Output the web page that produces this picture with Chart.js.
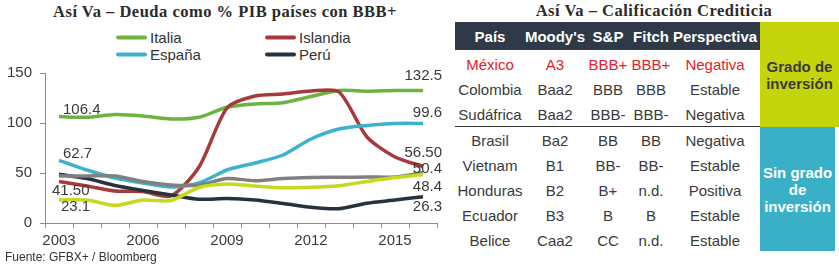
<!DOCTYPE html>
<html>
<head>
<meta charset="utf-8">
<script src="https://cdn.jsdelivr.net/npm/chart.js@4.4.1/dist/chart.umd.min.js"></script>
<style>
  body { margin: 0; width: 839px; height: 269px; position: relative; overflow: hidden; background: #fff;
         font-family: "Liberation Sans", Arial, sans-serif; color: #333; }
  .ttl { position: absolute; font: bold 16.5px "Liberation Serif", serif; letter-spacing: 0.5px; color: #2b2b2b; white-space: nowrap;
         transform: translate(-50%, -50%); }
  .leg { position: absolute; font-size: 15px; color: #333; white-space: nowrap; transform: translateY(-50%); }
  .leg i { display: inline-block; width: 31px; height: 4px; border-radius: 2px; vertical-align: middle; margin-right: 3px; position: relative; top: -1px; }
  #src { position: absolute; left: 5px; top: 250px; font-size: 12px; color: #333; }
  canvas { position: absolute; left: 0; top: 0; }
  .cell { position: absolute; font-size: 15px; white-space: nowrap; transform: translate(-50%, -50%); }
  .box { position: absolute; display: flex; align-items: center; justify-content: center; text-align: center;
         font-weight: bold; font-size: 15px; line-height: 17px; }
</style>
</head>
<body>
<div class="ttl" style="left:225px; top:12px">Así Va – Deuda como % PIB países con BBB+</div>
<div class="ttl" style="left:654px; top:11px">Así Va – Calificación Crediticia</div>
<div id="legend"></div>
<canvas id="chart" width="450" height="256"></canvas>
<div id="src">Fuente: GFBX+ / Bloomberg</div>
<div id="table"></div>

<script>
// --- chart data ---
var years = ["2003","2004","2005","2006","2007","2008","2009","2010","2011","2012","2013","2014","2015","2016"];
var italia   = [106.4, 105.7, 108.5, 107, 104, 105.8, 115.7, 119, 120.3, 126.5, 132.5, 131.8, 132.6, 132.5];
var islandia = [41.5, 37, 32, 31.5, 27, 56, 115, 127, 129, 132, 131, 86, 66, 56.5];
var espana   = [62.7, 53, 45, 40, 36, 40, 53, 60, 68, 84, 94, 97.5, 99.5, 99.6];
var peru     = [48.7, 44.5, 37.5, 32.5, 28, 23.7, 24.5, 23, 19.5, 15.7, 14.3, 19.8, 23, 26.3];
var gris     = [47, 47, 47, 41.5, 38, 38, 44.5, 42.3, 44.5, 45.5, 45.7, 46, 46, 50.4];
var amarillo = [23.1, 23, 17.5, 23, 22.5, 35.5, 39, 37, 35.3, 35.7, 37.3, 41.5, 45.5, 48.4];
var yTicks = [0, 50, 100, 150];

// --- table data ---
var headers = ["País", "Moody's", "S&P", "Fitch", "Perspectiva"];
var rows = [
  ["México", "A3", "BBB+", "BBB+", "Negativa"],
  ["Colombia", "Baa2", "BBB", "BBB", "Estable"],
  ["Sudáfrica", "Baa2", "BBB-", "BBB-", "Negativa"],
  ["Brasil", "Ba2", "BB", "BB", "Negativa"],
  ["Vietnam", "B1", "BB-", "BB-", "Estable"],
  ["Honduras", "B2", "B+", "n.d.", "Positiva"],
  ["Ecuador", "B3", "B", "B", "Estable"],
  ["Belice", "Caa2", "CC", "n.d.", "Estable"]
];
var groups = ["Grado de<br>inversión", "Sin grado<br>de<br>inversión"];

var series = [
  { label: "Amarillo", data: amarillo, color: "#c6da1c", legend: false,
    start: { text: "23.1", dx: 2, dy: 7, align: "left" }, end: { text: "48.4", dx: 19, dy: 12 } },
  { label: "Gris", data: gris, color: "#808080", legend: false,
    end: { text: "50.4", dx: 19, dy: -4 } },
  { label: "Perú", data: peru, color: "#27323e", legend: true,
    end: { text: "26.3", dx: 19, dy: 10 } },
  { label: "España", data: espana, color: "#3ab3cb", legend: true,
    start: { text: "62.7", dx: 4, dy: -6, align: "left" }, end: { text: "99.6", dx: 19, dy: -11 } },
  { label: "Islandia", data: islandia, color: "#a63a3a", legend: true,
    start: { text: "41.50", dx: -7, dy: 9, align: "left" }, end: { text: "56.50", dx: 19, dy: -14 } },
  { label: "Italia", data: italia, color: "#6cb43f", legend: true,
    start: { text: "106.4", dx: 4, dy: -7, align: "left" }, end: { text: "132.5", dx: 19, dy: -15 } }
];

// --- legend (two columns) ---
var legendOrder = ["Italia", "Islandia", "España", "Perú"];
var legendBox = document.getElementById("legend");
legendOrder.forEach(function (name, i) {
  var s = series.find(function (d) { return d.label === name; });
  var el = document.createElement("div");
  el.className = "leg";
  el.style.left = (i % 2 === 0 ? 116 : 265) + "px";
  el.style.top = (i < 2 ? 37 : 54) + "px";
  el.innerHTML = '<i style="background:' + s.color + '"></i>' + name;
  legendBox.appendChild(el);
});

// --- value labels at both ends ---
const endLabels = {
  id: "endLabels",
  afterDatasetsDraw(chart) {
    const c = chart.ctx;
    c.save();
    c.font = "15px 'Liberation Sans', Arial, sans-serif";
    c.fillStyle = "#3a3a3a";
    c.textBaseline = "middle";
    chart.data.datasets.forEach((ds, di) => {
      const pts = chart.getDatasetMeta(di).data;
      const s = series[di];
      if (s.start) {
        c.textAlign = "left";
        c.fillText(s.start.text, pts[0].x + s.start.dx, pts[0].y + s.start.dy);
      }
      if (s.end) {
        const p = pts[pts.length - 1];
        c.textAlign = "right";
        c.fillText(s.end.text, p.x + s.end.dx, p.y + s.end.dy);
      }
    });
    c.restore();
  }
};

new Chart(document.getElementById("chart"), {
  type: "line",
  data: {
    labels: years,
    datasets: series.map(function (s) {
      return { label: s.label, data: s.data, borderColor: s.color, backgroundColor: s.color,
               borderWidth: 3.5, pointRadius: 0, tension: 0.25, fill: false };
    })
  },
  options: {
    responsive: false,
    animation: false,
    layout: { padding: { top: 73, right: 13, left: 0, bottom: 0 } },
    plugins: { legend: { display: false }, tooltip: { enabled: false } },
    scales: {
      x: {
        offset: true,
        grid: { offset: true, drawOnChartArea: false, tickLength: 5, color: "#8c8c8c" },
        border: { color: "#8c8c8c" },
        ticks: { autoSkip: false, maxRotation: 0, padding: 4, color: "#3a3a3a",
                 font: { size: 15, family: "'Liberation Sans', Arial, sans-serif" },
                 callback: function (v, i) { return i % 3 === 0 ? years[i] : ""; } },
        afterFit: function (s) { s.height = 33; }
      },
      y: {
        min: 0, max: 150,
        afterBuildTicks: function (s) { s.ticks = yTicks.map(function (v) { return { value: v }; }); },
        grid: { drawOnChartArea: false, tickLength: 5, color: "#8c8c8c" },
        border: { color: "#8c8c8c" },
        ticks: { padding: 8, color: "#3a3a3a", font: { size: 15, family: "'Liberation Sans', Arial, sans-serif" } },
        afterFit: function (s) { s.width = 45; }
      }
    }
  },
  plugins: [endLabels]
});

// --- ratings table ---
var colX = [490, 555, 608, 651, 715];
var rowY = [64, 89, 114, 140, 165, 190, 215, 240];
var tbl = document.getElementById("table");
function add(html, style, cls) {
  var d = document.createElement("div");
  d.className = cls || "cell";
  d.innerHTML = html;
  d.style.cssText = style;
  tbl.appendChild(d);
  return d;
}
add("", "left:455px;top:22px;width:305px;height:28px;background:#2e3a47;", "box");
headers.forEach(function (h, i) {
  add(h, "left:" + colX[i] + "px;top:36px;color:#fff;font-weight:bold;");
});
rows.forEach(function (r, ri) {
  r.forEach(function (v, ci) {
    add(v, "left:" + colX[ci] + "px;top:" + rowY[ri] + "px;color:" + (ri === 0 ? "#e3212b" : "#3a3a3a") + ";");
  });
});
add("", "left:455px;top:126px;width:305px;height:1px;background:#333;", "box");
add(groups[0], "left:760px;top:22px;width:79px;height:105px;background:#c5d50b;color:#3a3a3a;", "box");
add(groups[1], "left:760px;top:127px;width:75px;height:124px;background:#3aafc8;color:#fff;", "box");
</script>
</body>
</html>
